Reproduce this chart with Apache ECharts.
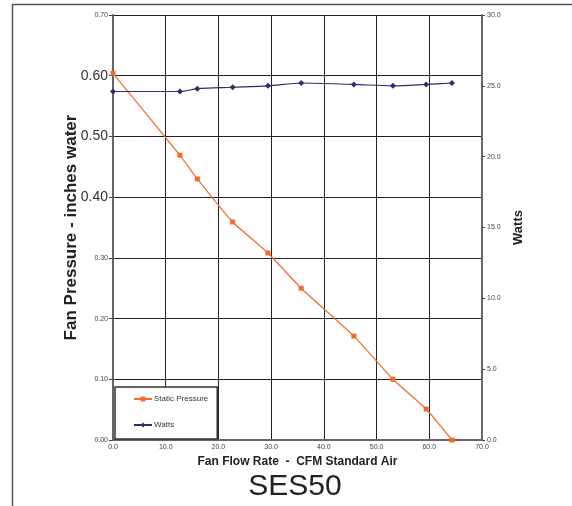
<!DOCTYPE html>
<html>
<head>
<meta charset="utf-8">
<script src="https://cdn.jsdelivr.net/npm/echarts@6/dist/echarts.min.js"></script>
<style>
  html, body { margin: 0; padding: 0; background: #fff; }
  #chart { width: 572px; height: 506px; }
</style>
</head>
<body>
<div id="chart"></div>
<script>
// fan curve readings
var flowCfm = [0, 12.7, 16.0, 22.7, 29.4, 35.7, 45.7, 53.1, 59.4, 64.3];
var staticPressure = [0.604, 0.469, 0.430, 0.359, 0.308, 0.250, 0.171, 0.100, 0.051, 0.0];
var watts = [24.6, 24.6, 24.8, 24.9, 25.0, 25.2, 25.1, 25.0, 25.1, 25.2];
var bigLabels = ["0.40", "0.50", "0.60"];

var FONT = "Liberation Sans, Arial, sans-serif";

function pairs(xs, ys) {
	var out = [];
	for (var i = 0; i < xs.length; i++) {
		out.push([xs[i], ys[i]]);
	}
	return out;
}

var voChart = echarts.init(document.getElementById("chart"));

var moOptions = {
	animation: false,
	textStyle: { fontFamily: FONT },
	title: {
		text: "SES50",
		left: 290,
		top: 467,
		textAlign: "center",
		textStyle: { fontFamily: FONT, fontSize: 30, fontWeight: "normal", color: "#222" }
	},
	graphic: [{
		type: "rect",
		silent: true,
		shape: { x: 12.5, y: 4.5, width: 620, height: 620 },
		style: { fill: "none", stroke: "#555", lineWidth: 1.5 }
	}],
	grid: {
		left: 113,
		right: 90,
		top: 15,
		bottom: 66
	},
	legend: {
		orient: "vertical",
		left: 115,
		top: 387,
		itemWidth: 18,
		itemHeight: 6,
		itemGap: 18,
		padding: [8, 9, 10, 18],
		backgroundColor: "#fff",
		borderColor: "#333",
		borderWidth: 1.5,
		borderRadius: 0,
		textStyle: { fontFamily: FONT, fontSize: 8, color: "#333", padding: [0, 0, 0, -3] },
		data: ["Static Pressure", "Watts"]
	},
	xAxis: {
		type: "value",
		min: 0,
		max: 70,
		interval: 10,
		name: "Fan Flow Rate  -  CFM Standard Air",
		nameLocation: "middle",
		nameGap: 15,
		nameTextStyle: { fontFamily: FONT, fontSize: 12, fontWeight: "bold", color: "#222" },
		axisLine: { lineStyle: { color: "#666", width: 2 } },
		axisTick: { show: false },
		axisLabel: {
			margin: 4,
			fontSize: 7,
			color: "#444",
			formatter: function(v) { return v.toFixed(1); }
		},
		splitLine: { show: true, lineStyle: { color: "#222", width: 1 } }
	},
	yAxis: [{
		type: "value",
		position: "left",
		min: 0,
		max: 0.7,
		interval: 0.1,
		name: "Fan Pressure - inches water",
		nameLocation: "middle",
		nameRotate: 90,
		nameGap: 33,
		nameMoveOverlap: false,
		nameTextStyle: { fontFamily: FONT, fontSize: 17, fontWeight: "bold", color: "#222" },
		axisLine: { show: true, lineStyle: { color: "#666", width: 2 } },
		axisTick: { show: true, length: 4, lineStyle: { color: "#444" } },
		axisLabel: {
			margin: 5,
			formatter: function(v) {
				var s = v.toFixed(2);
				return bigLabels.indexOf(s) >= 0 ? "{big|" + s + "}" : "{sm|" + s + "}";
			},
			rich: {
				big: { fontFamily: FONT, fontSize: 14, color: "#333" },
				sm: { fontFamily: FONT, fontSize: 7, color: "#444" }
			}
		},
		splitLine: { show: true, lineStyle: { color: "#222", width: 1 } }
	}, {
		type: "value",
		position: "right",
		min: 0,
		max: 30,
		interval: 5,
		name: "Watts",
		nameLocation: "middle",
		nameRotate: 90,
		nameGap: 25,
		nameTextStyle: { fontFamily: FONT, fontSize: 13, fontWeight: "bold", color: "#222" },
		axisLine: { show: true, lineStyle: { color: "#666", width: 2 } },
		axisTick: { show: true, length: 3, lineStyle: { color: "#444" } },
		axisLabel: {
			margin: 5,
			fontSize: 7,
			color: "#444",
			formatter: function(v) { return v.toFixed(1); }
		},
		splitLine: { show: false }
	}],
	series: [{
		name: "Static Pressure",
		type: "line",
		yAxisIndex: 0,
		smooth: 0.15,
		symbol: "rect",
		symbolSize: 5,
		itemStyle: { color: "#F26B2B" },
		lineStyle: { color: "#F26B2B", width: 1.2 },
		data: pairs(flowCfm, staticPressure)
	}, {
		name: "Watts",
		type: "line",
		yAxisIndex: 1,
		smooth: 0.3,
		symbol: "diamond",
		symbolSize: 6,
		itemStyle: { color: "#2E2E6B" },
		lineStyle: { color: "#2E2E6B", width: 1.2 },
		data: pairs(flowCfm, watts)
	}]
};

voChart.setOption(moOptions);
</script>
</body>
</html>
